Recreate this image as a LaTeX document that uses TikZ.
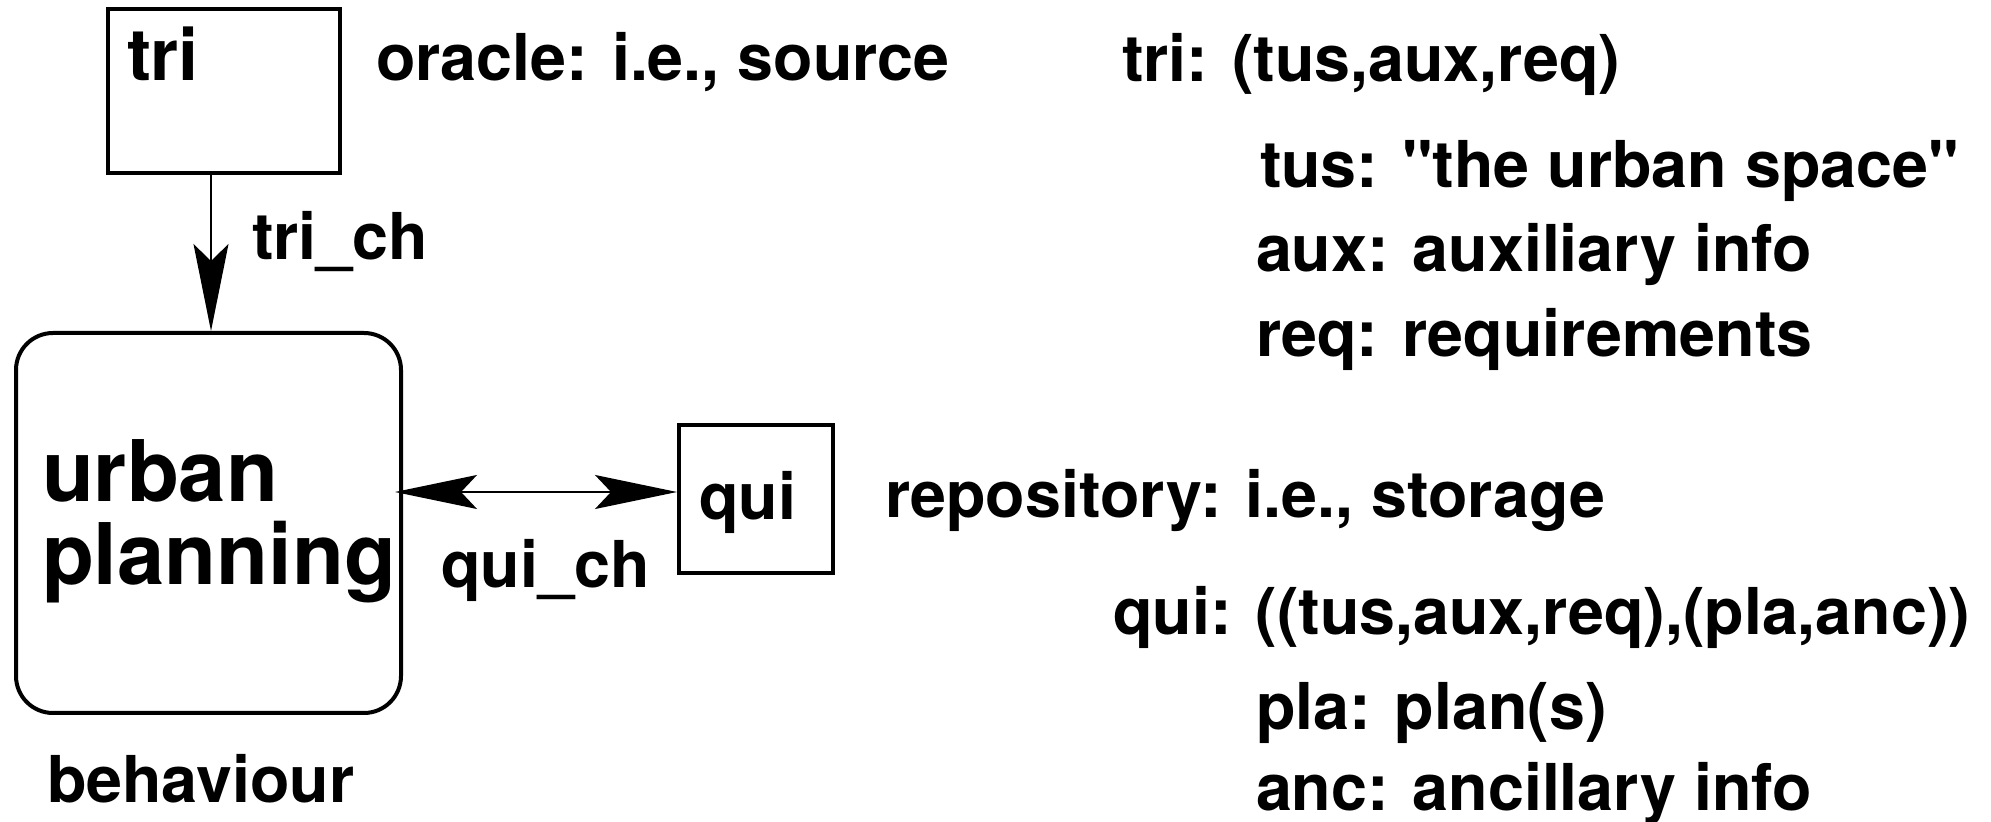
\documentclass[tikz,border=0pt]{standalone}
\usepackage{fontspec}
\setmainfont{TeX Gyre Heros}[Ligatures=TeXOff]
\usetikzlibrary{arrows.meta}
\begin{document}
\begin{tikzpicture}[x=0.5pt,y=-0.5pt,
  txt/.style={anchor=base west, inner sep=0pt, outer sep=0pt,
    font=\fontsize{32.3pt}{38pt}\selectfont\bfseries},
  bigtxt/.style={anchor=base west, inner sep=0pt, outer sep=0pt, align=left,
    font=\fontsize{42.5pt}{41.5pt}\selectfont\bfseries},
  frame/.style={draw, line width=2pt, inner sep=0pt},
  chan/.style={line width=1pt},
  vhead/.style={-{Stealth[length=43.5pt, width=17.5pt, inset=8.5pt]}},
  hhead/.style={{Stealth[length=41pt, width=17pt, inset=8pt]}-{Stealth[length=41pt, width=17pt, inset=8pt]}}
  ]
\useasboundingbox (0,0) rectangle (1991,822);

% process boxes
\node[frame, minimum width=116pt, minimum height=82pt] (tri) at (224,91) {};
\node[frame, rounded corners=18.5pt, minimum width=192.5pt, minimum height=190pt] (urb) at (208.5,523) {};
\node[frame, minimum width=77pt, minimum height=74pt] (qui) at (756,499) {};

% box captions (the two-line caption is anchored on its last baseline)
\node[txt, font=\fontsize{36pt}{40pt}\selectfont\bfseries] (trilbl) at (127,81) {tri};
\node[bigtxt] (urblbl) at (42,585) {urban\\planning};
\node[txt] (quilbl) at (699,520) {qui};
\node[txt] (behlbl) at (47,802) {behaviour};

% channels
\coordinate (chx) at (211,0);
\coordinate (chy) at (0,492);
\draw[chan, vhead] (tri.south -| chx) -- (urb.north -| chx);
\draw[chan, hhead, shorten <=-4pt] (urb.east |- chy) -- (qui.west |- chy);
\node[txt] (trich) at (252,260) {tri\_ch};
\node[txt] (quich) at (441,588) {qui\_ch};

% annotations
\node[txt] (orac) at (376,81) {oracle: i.e., source};
\node[txt] (repo) at (885,518) {repository: i.e., storage};

\node[txt] (tridef) at (1122,82) {tri: (tus,aux,req)};
\node[txt] (tusdef) at (1260,188) {tus: "the urban space"};
\node[txt] (auxdef) at (1256,272) {aux: auxiliary info};
\node[txt] (reqdef) at (1256,357) {req: requirements};

\node[txt] (quidef) at (1113,635) {qui: ((tus,aux,req),(pla,anc))};
\node[txt] (pladef) at (1256,729) {pla: plan(s)};
\node[txt] (ancdef) at (1256,810) {anc: ancillary info};
\end{tikzpicture}
\end{document}
